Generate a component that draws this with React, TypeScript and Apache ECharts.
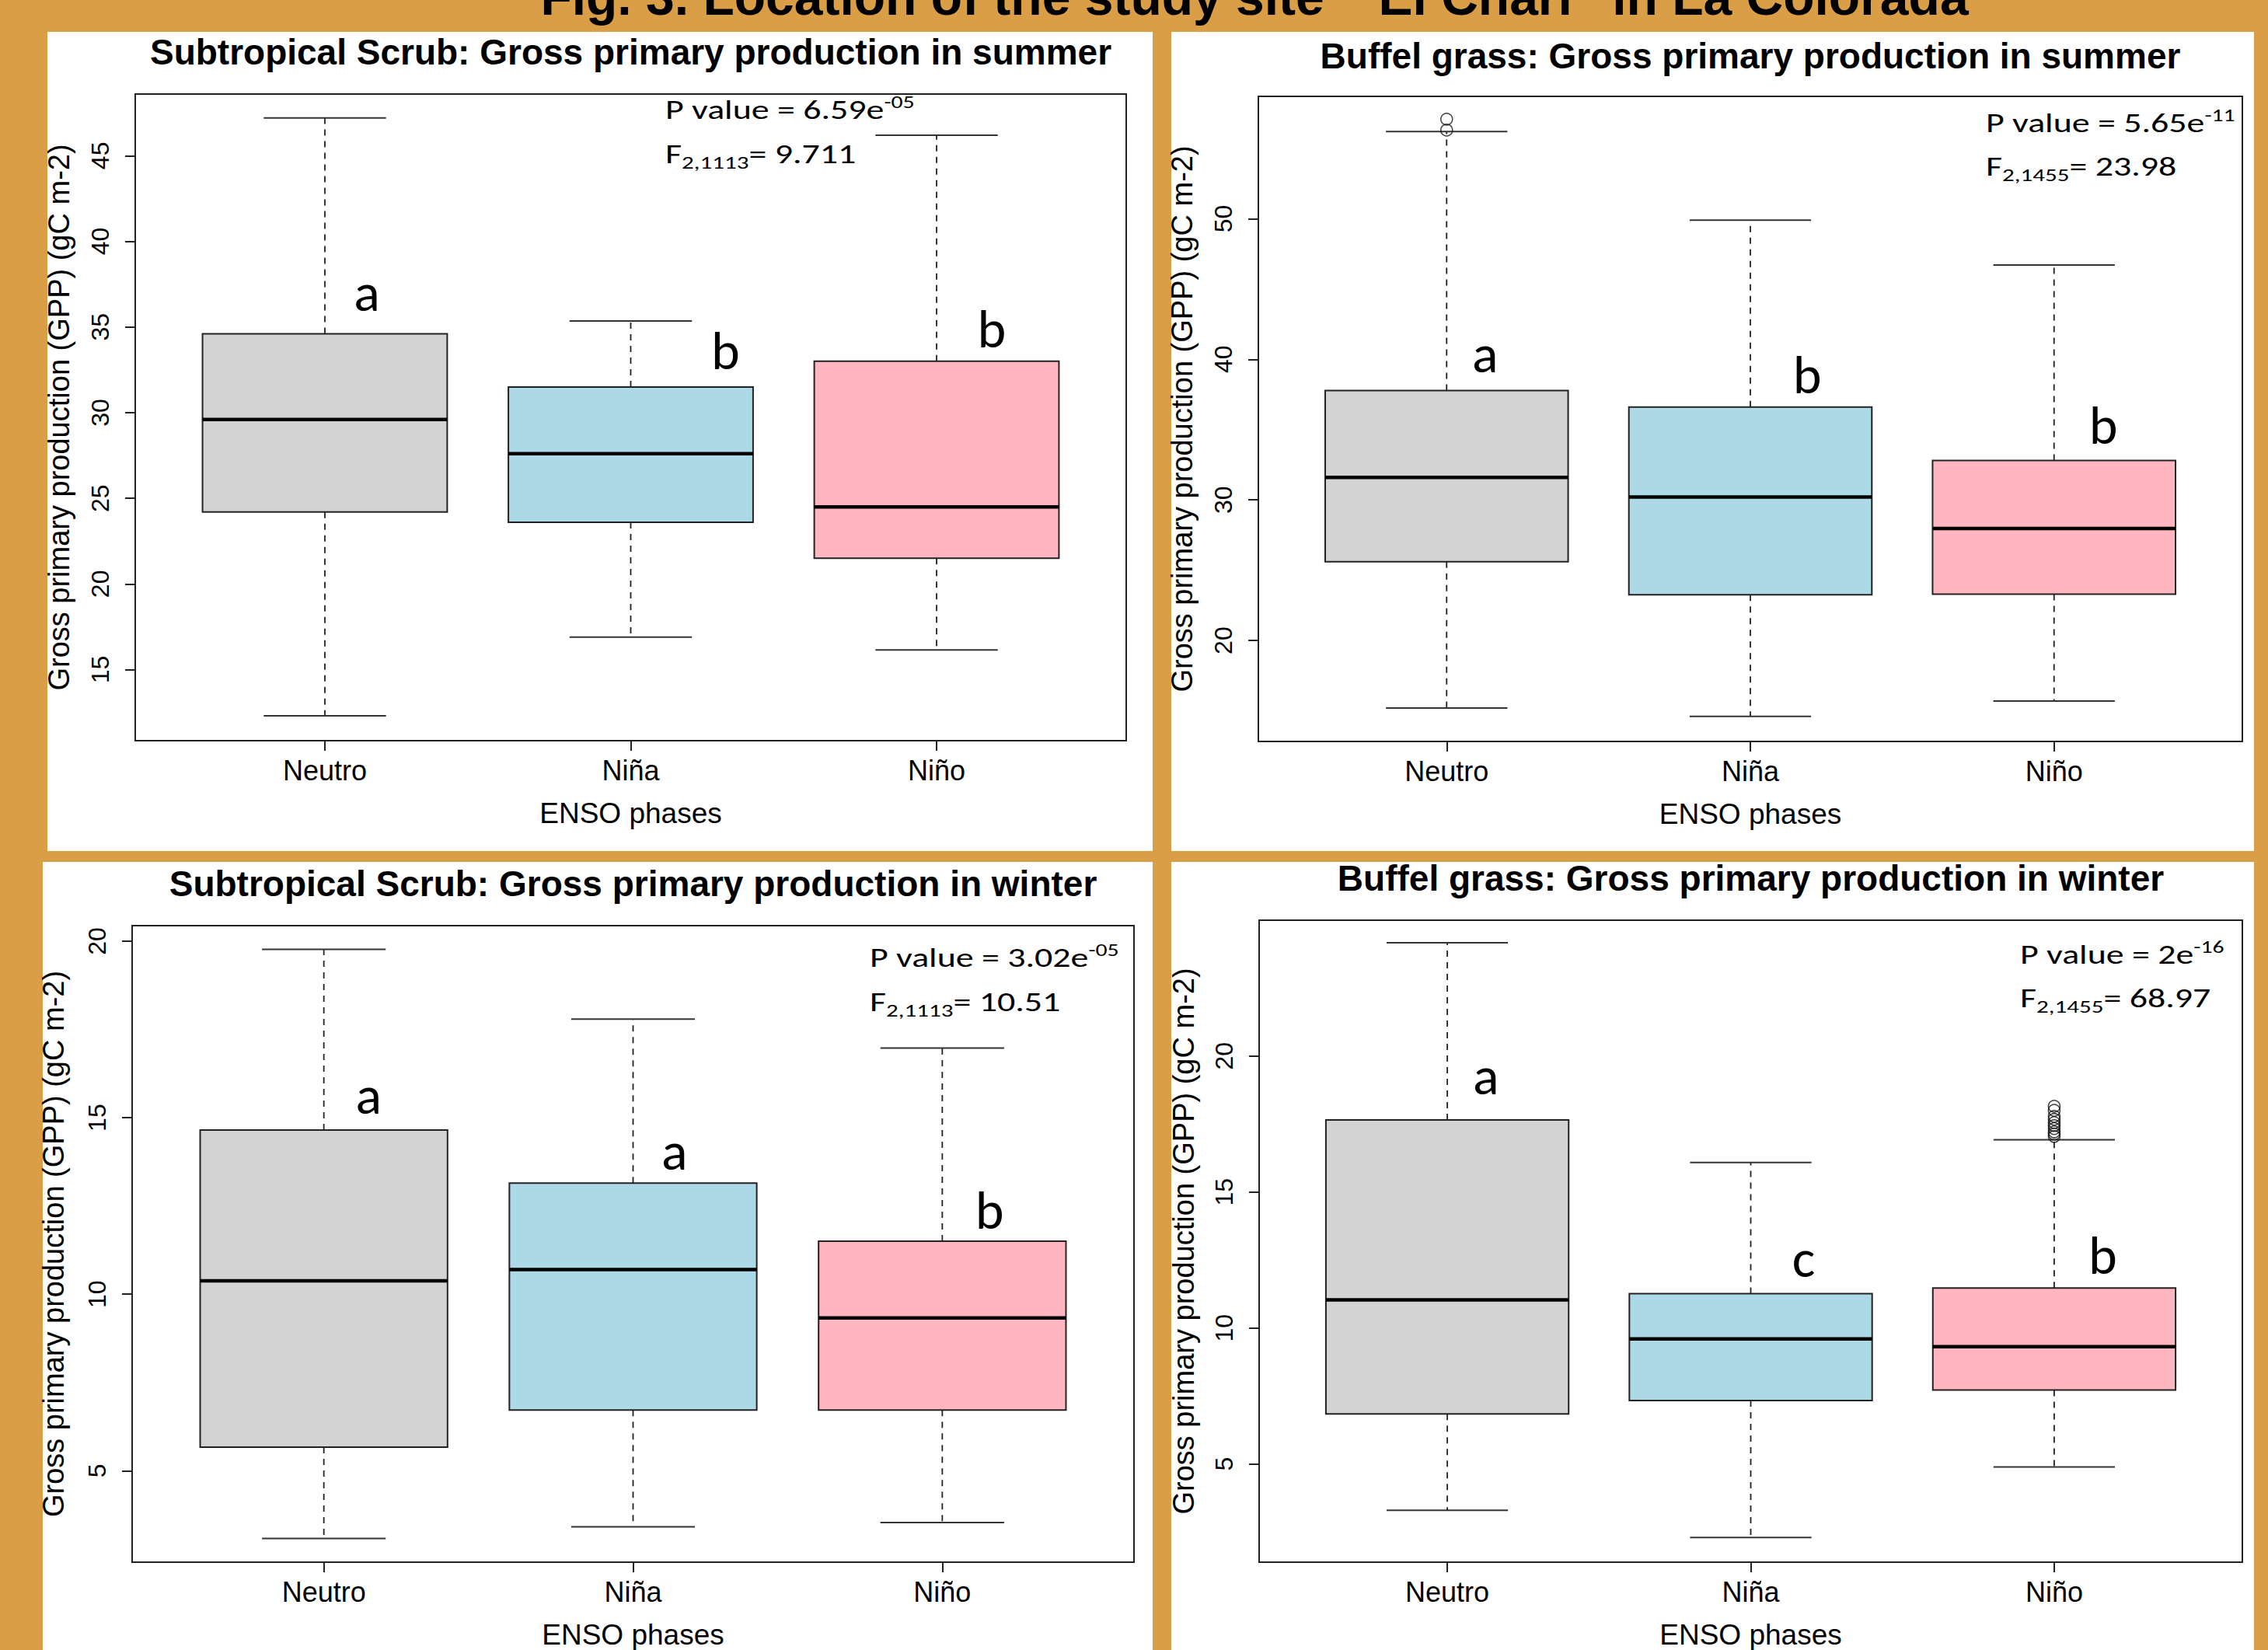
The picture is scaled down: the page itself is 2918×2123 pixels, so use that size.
import React, { useEffect, useRef } from 'react';
import * as echarts from 'echarts';

const W = 2918;
const H = 2123;

// ---------- DATA ----------
const categories = ['Neutro', 'Niña', 'Niño'];
const boxColors = ['#d3d3d3', '#add8e6', '#ffb6c1'];

// Subtropical Scrub – summer
const scrubSummerLow = [12.3, 16.9, 16.15];
const scrubSummerQ1 = [24.2, 23.6, 21.5];
const scrubSummerMedian = [29.6, 27.6, 24.5];
const scrubSummerQ3 = [34.6, 31.5, 33.0];
const scrubSummerHigh = [47.2, 35.35, 46.2];
const scrubSummerOutliers: number[][] = [];
const scrubSummerTicks = [15, 20, 25, 30, 35, 40, 45];
const scrubSummerLetters = ['a', 'b', 'b'];
const scrubSummerLetterX = [1.137, 2.31, 3.18];
const scrubSummerLetterY = [35.8, 32.4, 33.65];

// Buffel grass – summer
const buffelSummerLow = [15.2, 14.6, 15.7];
const buffelSummerQ1 = [25.6, 23.26, 23.3];
const buffelSummerMedian = [31.6, 30.2, 27.96];
const buffelSummerQ3 = [37.78, 36.6, 32.8];
const buffelSummerHigh = [56.2, 49.9, 46.7];
const buffelSummerOutliers = [[1, 57.08], [1, 56.3]];
const buffelSummerTicks = [20, 30, 40, 50];
const buffelSummerLetters = ['a', 'b', 'b'];
const buffelSummerLetterX = [1.127, 2.187, 3.162];
const buffelSummerLetterY = [38.9, 37.4, 33.8];

// Subtropical Scrub – winter
const scrubWinterLow = [3.08, 3.41, 3.53];
const scrubWinterQ1 = [5.67, 6.72, 6.72];
const scrubWinterMedian = [10.38, 10.7, 9.33];
const scrubWinterQ3 = [14.65, 13.15, 11.5];
const scrubWinterHigh = [19.77, 17.79, 16.97];
const scrubWinterOutliers: number[][] = [];
const scrubWinterTicks = [5, 10, 15, 20];
const scrubWinterLetters = ['a', 'a', 'b'];
const scrubWinterLetterX = [1.145, 2.134, 3.153];
const scrubWinterLetterY = [15.05, 13.45, 11.78];

// Buffel grass – winter
const buffelWinterLow = [3.3, 2.3, 4.89];
const buffelWinterQ1 = [6.84, 7.33, 7.72];
const buffelWinterMedian = [11.03, 9.6, 9.31];
const buffelWinterQ3 = [17.65, 11.26, 11.47];
const buffelWinterHigh = [24.16, 16.08, 16.92];
const buffelWinterOutliers = [
  [3, 18.15], [3, 18.0], [3, 17.78], [3, 17.67], [3, 17.55],
  [3, 17.44], [3, 17.33], [3, 17.21], [3, 17.13], [3, 17.04],
];
const buffelWinterTicks = [5, 10, 15, 20, 25];
const buffelWinterLetters = ['a', 'c', 'b'];
const buffelWinterLetterX = [1.127, 2.174, 3.16];
const buffelWinterLetterY = [18.5, 11.79, 11.89];

// statistics text
const panelTitles = [
  'Subtropical Scrub: Gross primary production in summer',
  'Buffel grass: Gross primary production in summer',
  'Subtropical Scrub: Gross primary production in winter',
  'Buffel grass: Gross primary production in winter',
];
const pValueBase = ['6.59e', '5.65e', '3.02e', '2e'];
const pValueExp = ['-05', '-11', '-05', '-16'];
const fDegrees = ['2,1113', '2,1455', '2,1113', '2,1455'];
const fValues = ['9.711', '23.98', '10.51', '68.97'];

const mainTitle = 'Fig. 3. Location of the study site  “El Chari” in La Colorada';
const xAxisTitle = 'ENSO phases';
const yAxisTitle = 'Gross primary production (GPP) (gC m-2)';

// ---------- LAYOUT ----------
const ORANGE = '#da9e47';
const ARIAL = '"Liberation Sans", Arial, sans-serif';
const CALIBRI = 'Carlito, Calibri, "Open Sans", sans-serif';

const panels = [
  {
    bg: [61, 41, 1422, 1054], grid: [174, 121, 1275, 832], yMin: 10.85, yMax: 48.6,
    titleY: 67, pX: 856, pTop: 120, fTop: 177, yNameGap: 79,
    low: scrubSummerLow, q1: scrubSummerQ1, med: scrubSummerMedian, q3: scrubSummerQ3, high: scrubSummerHigh,
    outliers: scrubSummerOutliers, ticks: scrubSummerTicks,
    letters: scrubSummerLetters, letterX: scrubSummerLetterX, letterY: scrubSummerLetterY,
  },
  {
    bg: [1507, 41, 1393, 1054], grid: [1619, 124, 1266, 830], yMin: 12.82, yMax: 58.7,
    titleY: 72, pX: 2555, pTop: 137, fTop: 193, yNameGap: 79,
    low: buffelSummerLow, q1: buffelSummerQ1, med: buffelSummerMedian, q3: buffelSummerQ3, high: buffelSummerHigh,
    outliers: buffelSummerOutliers, ticks: buffelSummerTicks,
    letters: buffelSummerLetters, letterX: buffelSummerLetterX, letterY: buffelSummerLetterY,
  },
  {
    bg: [55, 1109, 1428, 1014], grid: [170, 1191, 1289, 824], yMin: 2.41, yMax: 20.44,
    titleY: 1137, pX: 1119, pTop: 1211, fTop: 1268, yNameGap: 82,
    low: scrubWinterLow, q1: scrubWinterQ1, med: scrubWinterMedian, q3: scrubWinterQ3, high: scrubWinterHigh,
    outliers: scrubWinterOutliers, ticks: scrubWinterTicks,
    letters: scrubWinterLetters, letterX: scrubWinterLetterX, letterY: scrubWinterLetterY,
  },
  {
    bg: [1507, 1109, 1393, 1014], grid: [1620, 1184, 1265, 831], yMin: 1.39, yMax: 24.99,
    titleY: 1130, pX: 2599, pTop: 1207, fTop: 1263, yNameGap: 78,
    low: buffelWinterLow, q1: buffelWinterQ1, med: buffelWinterMedian, q3: buffelWinterQ3, high: buffelWinterHigh,
    outliers: buffelWinterOutliers, ticks: buffelWinterTicks,
    letters: buffelWinterLetters, letterX: buffelWinterLetterX, letterY: buffelWinterLetterY,
  },
];

const LETTER_SIZE = 70;
const STAT_SIZE = 34;
const STAT_STRETCH = 1.35;

function buildOption(): any {
  const grids: any[] = [];
  const xAxes: any[] = [];
  const yAxes: any[] = [];
  const series: any[] = [];
  const graphics: any[] = [];

  graphics.push({
    type: 'text', x: 1614, y: -4, z: 10,
    style: {
      text: mainTitle, fill: '#000', font: `bold 66px ${ARIAL}`,
      align: 'center', verticalAlign: 'middle',
    },
  });

  panels.forEach((p, i) => {
    graphics.push({
      type: 'rect', z: -100,
      shape: { x: p.bg[0], y: p.bg[1], width: p.bg[2], height: p.bg[3] },
      style: { fill: '#ffffff' },
    });
    graphics.push({
      type: 'text', z: 10,
      x: p.grid[0] + p.grid[2] / 2, y: p.titleY,
      style: {
        text: panelTitles[i], fill: '#000', font: `bold 46px ${ARIAL}`,
        align: 'center', verticalAlign: 'middle',
      },
    });
    graphics.push({
      type: 'text', z: 10, x: p.pX, y: p.pTop, scaleX: STAT_STRETCH,
      style: {
        text: `{m|P value = ${pValueBase[i]}}{s|${pValueExp[i]}}`,
        align: 'left', verticalAlign: 'top',
        rich: {
          m: { fontSize: STAT_SIZE, fontFamily: CALIBRI, lineHeight: 44, fill: '#000', color: '#000' },
          s: { fontSize: 22, fontFamily: CALIBRI, lineHeight: 15, verticalAlign: 'top', fill: '#000', color: '#000' },
        },
      },
    });
    graphics.push({
      type: 'text', z: 10, x: p.pX, y: p.fTop, scaleX: STAT_STRETCH,
      style: {
        text: `{m|F}{d|${fDegrees[i]}}{m|= ${fValues[i]}}`,
        align: 'left', verticalAlign: 'top',
        rich: {
          m: { fontSize: STAT_SIZE, fontFamily: CALIBRI, lineHeight: 44, fill: '#000', color: '#000' },
          d: { fontSize: 23, fontFamily: CALIBRI, lineHeight: 18, verticalAlign: 'bottom', fill: '#000', color: '#000' },
        },
      },
    });

    grids.push({
      left: p.grid[0], top: p.grid[1], width: p.grid[2], height: p.grid[3],
      show: true, borderColor: '#222', borderWidth: 2, backgroundColor: 'transparent',
      containLabel: false,
    });

    xAxes.push({
      type: 'value', gridIndex: i, min: 0.38, max: 3.62,
      splitLine: { show: false },
      axisLine: { show: true, lineStyle: { color: '#222', width: 2 } },
      axisTick: { show: true, customValues: [1, 2, 3], length: 13, lineStyle: { color: '#222', width: 2 } },
      axisLabel: {
        show: true, customValues: [1, 2, 3], margin: 20,
        formatter: (v: number) => categories[Math.round(v) - 1] ?? '',
        fontSize: 36, fontFamily: ARIAL, color: '#000',
      },
      name: xAxisTitle, nameLocation: 'middle', nameGap: 75,
      nameTextStyle: { fontSize: 37, fontFamily: ARIAL, color: '#000' },
    });

    yAxes.push({
      type: 'value', gridIndex: i, min: p.yMin, max: p.yMax,
      splitLine: { show: false },
      axisLine: { show: true, lineStyle: { color: '#222', width: 2 } },
      axisTick: { show: true, customValues: p.ticks, length: 13, lineStyle: { color: '#222', width: 2 } },
      axisLabel: {
        show: true, customValues: p.ticks, rotate: 90, margin: 29,
        fontSize: 32, fontFamily: ARIAL, color: '#000',
      },
      name: yAxisTitle, nameLocation: 'middle', nameRotate: 90, nameGap: p.yNameGap,
      nameTextStyle: { fontSize: 38, fontFamily: ARIAL, color: '#000' },
    });

    const boxData = categories.map((_, k) => [k + 1, p.low[k], p.q1[k], p.med[k], p.q3[k], p.high[k], k]);
    series.push({
      type: 'custom', xAxisIndex: i, yAxisIndex: i, z: 3,
      encode: { x: 0, y: [1, 2, 3, 4, 5] },
      data: boxData,
      renderItem: (params: any, api: any) => {
        const x = api.value(0);
        const lo = api.coord([x, api.value(1)]);
        const b1 = api.coord([x, api.value(2)]);
        const md = api.coord([x, api.value(3)]);
        const b3 = api.coord([x, api.value(4)]);
        const hi = api.coord([x, api.value(5)]);
        const ci = api.value(6);
        const boxW = api.size([0.8, 0])[0];
        const capW = boxW / 2;
        const cx = lo[0];
        const dash = { stroke: '#222', lineWidth: 1.8, lineDash: [8, 7] };
        const solid = { stroke: '#333', lineWidth: 2 };
        return {
          type: 'group',
          children: [
            { type: 'line', shape: { x1: cx, y1: b1[1], x2: cx, y2: lo[1] }, style: dash },
            { type: 'line', shape: { x1: cx, y1: b3[1], x2: cx, y2: hi[1] }, style: dash },
            { type: 'line', shape: { x1: cx - capW / 2, y1: lo[1], x2: cx + capW / 2, y2: lo[1] }, style: solid },
            { type: 'line', shape: { x1: cx - capW / 2, y1: hi[1], x2: cx + capW / 2, y2: hi[1] }, style: solid },
            {
              type: 'rect',
              shape: { x: cx - boxW / 2, y: b3[1], width: boxW, height: b1[1] - b3[1] },
              style: { fill: boxColors[ci], stroke: '#222', lineWidth: 2 },
            },
            {
              type: 'line',
              shape: { x1: cx - boxW / 2, y1: md[1], x2: cx + boxW / 2, y2: md[1] },
              style: { stroke: '#000', lineWidth: 4.5 },
            },
          ],
        };
      },
    });

    if (p.outliers.length) {
      series.push({
        type: 'scatter', xAxisIndex: i, yAxisIndex: i, z: 4,
        symbol: 'circle', symbolSize: 15,
        itemStyle: { color: 'rgba(0,0,0,0)', borderColor: '#111', borderWidth: 1.5 },
        data: p.outliers,
      });
    }

    const letterData = p.letters.map((_, k) => [p.letterX[k], p.letterY[k]]);
    series.push({
      type: 'custom', xAxisIndex: i, yAxisIndex: i, z: 5,
      encode: { x: 0, y: 1 },
      data: letterData,
      renderItem: (params: any, api: any) => {
        const pt = api.coord([api.value(0), api.value(1)]);
        return {
          type: 'text',
          x: pt[0], y: pt[1] - 0.39 * LETTER_SIZE,
          style: {
            text: p.letters[params.dataIndex], fill: '#000',
            font: `${LETTER_SIZE}px ${CALIBRI}`,
            align: 'center', verticalAlign: 'middle',
          },
        };
      },
    });
  });

  return {
    animation: false,
    backgroundColor: ORANGE,
    grid: grids,
    xAxis: xAxes,
    yAxis: yAxes,
    series,
    graphic: graphics,
  };
}

export default function App() {
  const ref = useRef<HTMLDivElement>(null);
  useEffect(() => {
    if (!ref.current) return;
    const chart = echarts.init(ref.current, null, { renderer: 'svg', width: W, height: H });
    chart.setOption(buildOption());
    return () => chart.dispose();
  }, []);
  return <div ref={ref} style={{ position: 'fixed', left: 0, top: 0, width: W, height: H }} />;
}
